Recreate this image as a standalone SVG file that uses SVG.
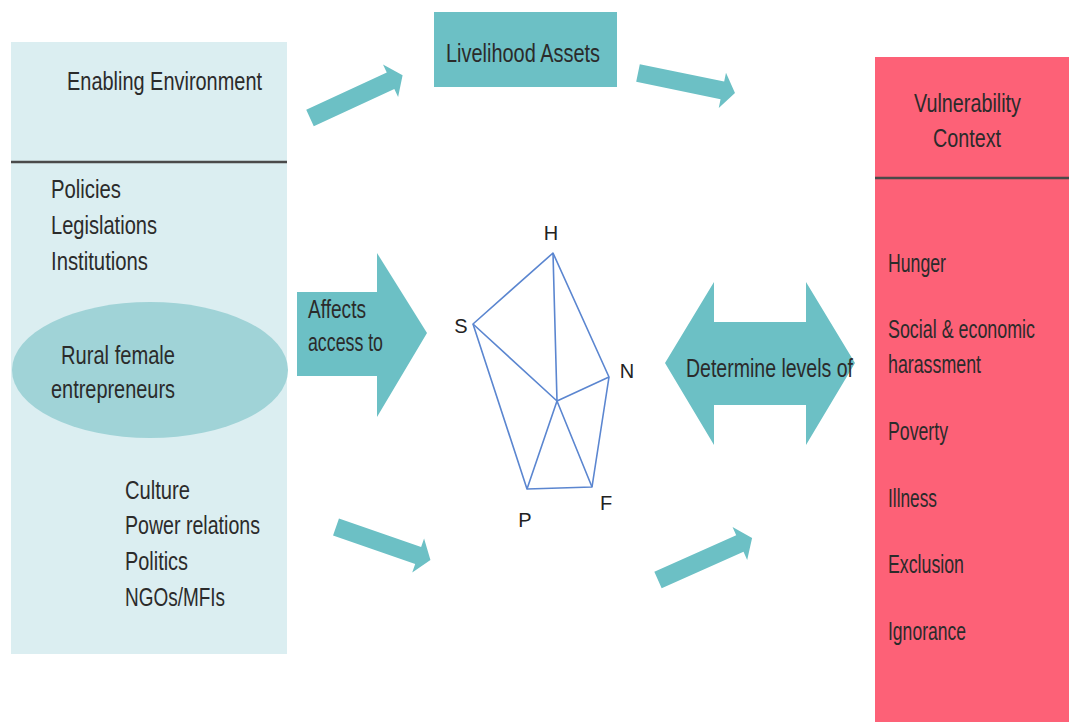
<svg xmlns="http://www.w3.org/2000/svg" xmlns:xlink="http://www.w3.org/1999/xlink" width="1069" height="722" viewBox="0 0 1069 722">
  <style>
    text { font-family: "Liberation Sans", Arial, sans-serif; fill: #2b2b2b; }
    .lbl { font-size: 25px; }
    .pt { font-size: 20px; fill: #222; }
    .teal { fill: #6cc0c5; }
    .web { fill: none; stroke: #5b86d0; stroke-width: 1.6; stroke-linejoin: round; }
    .rule { stroke: #4a4a4a; stroke-width: 2.5; }
  </style>
  <defs>
    <!-- slim block arrow pointing along +x, tip at x=100 -->
    <path id="thin-arrow" d="M0,-9 L87,-9 L87,-18 L100,0 L87,18 L87,9 L0,9 Z"/>
  </defs>

  <rect width="1069" height="722" fill="#ffffff"/>

  <!-- Enabling environment panel -->
  <g id="enabling-environment">
    <rect x="11" y="42" width="276" height="612" fill="#dbeef1"/>
    <line class="rule" x1="11" y1="162" x2="287" y2="162"/>
    <text class="lbl" x="67" y="90" textLength="195" lengthAdjust="spacingAndGlyphs">Enabling Environment</text>
    <text class="lbl" x="51" y="198" textLength="70" lengthAdjust="spacingAndGlyphs">Policies</text>
    <text class="lbl" x="51" y="234" textLength="106" lengthAdjust="spacingAndGlyphs">Legislations</text>
    <text class="lbl" x="51" y="270" textLength="97" lengthAdjust="spacingAndGlyphs">Institutions</text>
    <text class="lbl" x="125" y="499" textLength="65" lengthAdjust="spacingAndGlyphs">Culture</text>
    <text class="lbl" x="125" y="534" textLength="135" lengthAdjust="spacingAndGlyphs">Power relations</text>
    <text class="lbl" x="125" y="570" textLength="63" lengthAdjust="spacingAndGlyphs">Politics</text>
    <text class="lbl" x="125" y="606" textLength="100" lengthAdjust="spacingAndGlyphs">NGOs/MFIs</text>
  </g>

  <g id="rural-female-entrepreneurs">
    <ellipse cx="150" cy="370" rx="138" ry="68" fill="#a0d3d7"/>
    <text class="lbl" x="61" y="364" textLength="114" lengthAdjust="spacingAndGlyphs">Rural female</text>
    <text class="lbl" x="51" y="398" textLength="124" lengthAdjust="spacingAndGlyphs">entrepreneurs</text>
  </g>

  <g id="livelihood-assets">
    <rect class="teal" x="434" y="12" width="183" height="75"/>
    <text class="lbl" x="446" y="62" textLength="154" lengthAdjust="spacingAndGlyphs">Livelihood Assets</text>
  </g>

  <!-- asset pentagon: H, S, N, F, P around a central point -->
  <g id="asset-pentagon">
    <path class="web" d="M553,253 L473,324 L527,489 L592,487 L609,377 Z"/>
    <path class="web" d="M553,253 L557,401 M473,324 L557,401 M609,377 L557,401 M527,489 L557,401 M592,487 L557,401"/>
    <text class="pt" x="551" y="240" text-anchor="middle">H</text>
    <text class="pt" x="461" y="333" text-anchor="middle">S</text>
    <text class="pt" x="627" y="378" text-anchor="middle">N</text>
    <text class="pt" x="606" y="510" text-anchor="middle">F</text>
    <text class="pt" x="525" y="527" text-anchor="middle">P</text>
  </g>

  <g id="affects-access">
    <path class="teal" d="M297,292 L377,292 L377,253 L427,333 L377,417 L377,376 L297,376 Z"/>
    <text class="lbl" x="308" y="318" textLength="58" lengthAdjust="spacingAndGlyphs">Affects</text>
    <text class="lbl" x="308" y="351" textLength="75" lengthAdjust="spacingAndGlyphs">access to</text>
  </g>

  <g id="determine-levels">
    <path class="teal" d="M665,363 L714,282 L714,322 L806,322 L806,282 L855,363 L806,445 L806,405 L714,405 L714,445 Z"/>
    <text class="lbl" x="686" y="377" textLength="167" lengthAdjust="spacingAndGlyphs">Determine levels of</text>
  </g>

  <!-- Vulnerability context panel -->
  <g id="vulnerability-context">
    <rect x="875" y="57" width="194" height="665" fill="#fd6177"/>
    <line class="rule" x1="875" y1="178" x2="1069" y2="178"/>
    <text class="lbl" x="914" y="112" textLength="107" lengthAdjust="spacingAndGlyphs">Vulnerability</text>
    <text class="lbl" x="933" y="147" textLength="68" lengthAdjust="spacingAndGlyphs">Context</text>
    <text class="lbl" x="888" y="272" textLength="58" lengthAdjust="spacingAndGlyphs">Hunger</text>
    <text class="lbl" x="888" y="338" textLength="147" lengthAdjust="spacingAndGlyphs">Social &amp; economic</text>
    <text class="lbl" x="888" y="373" textLength="93" lengthAdjust="spacingAndGlyphs">harassment</text>
    <text class="lbl" x="888" y="440" textLength="60" lengthAdjust="spacingAndGlyphs">Poverty</text>
    <text class="lbl" x="888" y="507" textLength="49" lengthAdjust="spacingAndGlyphs">Illness</text>
    <text class="lbl" x="888" y="573" textLength="76" lengthAdjust="spacingAndGlyphs">Exclusion</text>
    <text class="lbl" x="888" y="640" textLength="78" lengthAdjust="spacingAndGlyphs">Ignorance</text>
  </g>

  <!-- flow arrows -->
  <g id="connectors" class="teal">
    <use xlink:href="#thin-arrow" transform="translate(310,118) rotate(-24.8) scale(1.02,1)"/>
    <use xlink:href="#thin-arrow" transform="translate(638,73) rotate(11.6) scale(0.99,1)"/>
    <use xlink:href="#thin-arrow" transform="translate(336,527) rotate(19.2) scale(1.0,1)"/>
    <use xlink:href="#thin-arrow" transform="translate(658,580) rotate(-24) scale(1.03,1)"/>
  </g>
</svg>
